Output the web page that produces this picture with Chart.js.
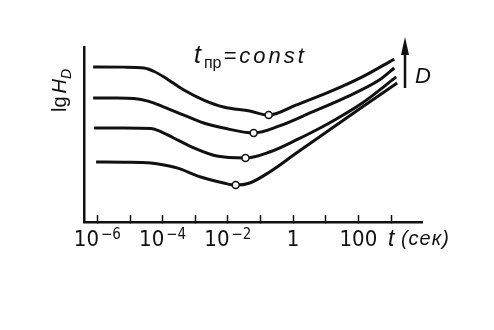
<!DOCTYPE html>
<html><head><meta charset="utf-8">
<script src="https://cdn.jsdelivr.net/npm/chart.js@4/dist/chart.umd.min.js"></script>
<style>html,body{margin:0;padding:0;background:#fff}#wrap{width:494px;height:330px}</style>
</head><body><div id="wrap"><canvas id="c" width="494" height="330"></canvas></div>
<script>
// x values are log10(t, s); y values are lg H_D in arbitrary units (axis 0..10)
const logT1 = [-6.13, -5.20, -4.57, -4.26, -3.96, -3.35, -2.74, -2.13, -1.33, -0.75, 0.10, 1.11, 2.12, 3.10];
const lgH1  = [8.86, 8.85, 8.80, 8.60, 8.29, 7.54, 6.97, 6.57, 6.34, 6.11, 6.69, 7.43, 8.29, 9.31];
const mark1 = 9;
const logT2 = [-6.13, -5.40, -4.88, -4.42, -3.96, -3.35, -2.74, -2.13, -1.21, -0.42, 0.59, 1.63, 2.64, 3.10];
const lgH2  = [7.09, 7.09, 7.06, 6.89, 6.57, 6.11, 5.66, 5.37, 5.09, 5.49, 6.29, 7.14, 8.11, 8.80];
const mark2 = 8;
const logT3 = [-6.10, -5.20, -4.36, -4.03, -3.66, -3.04, -2.34, -1.46, -0.72, 0.10, 1.11, 2.12, 3.16];
const lgH3  = [5.37, 5.37, 5.34, 5.14, 4.80, 4.23, 3.77, 3.66, 4.00, 4.69, 5.66, 6.80, 8.29];
const mark3 = 7;
const logT4 = [-6.04, -5.20, -4.36, -3.96, -3.56, -2.83, -2.13, -1.76, -1.33, -0.72, 0.10, 1.11, 2.12, 3.19];
const lgH4  = [3.43, 3.42, 3.37, 3.26, 3.09, 2.57, 2.23, 2.11, 2.23, 2.86, 3.94, 5.26, 6.57, 7.94];
const mark4 = 7;

const tickDecades = [-6, -5, -4, -3, -2, -1, 0, 1, 2, 3];
const labelDecades = [-6, -4, -2, 0, 2];
const xTitle = ["t", " (сек)"];
const yTitle = ["lg", "H", "D"];
const topNote = ["t", "пр", "=const"];
const arrowLabel = "D";

const INK = '#111';
const NARROW = '"Liberation Sans Narrow", "DejaVu Sans Condensed", sans-serif';
const SANS = '"Liberation Sans", "DejaVu Sans", sans-serif';

function series(xs, ys, mark) {
  return {
    data: xs.map((x, i) => ({x: x, y: ys[i]})),
    borderColor: INK, borderWidth: 3, cubicInterpolationMode: 'monotone', fill: false,
    pointRadius: c => c.dataIndex === mark ? 3.5 : 0,
    pointBackgroundColor: '#fff', pointBorderColor: INK, pointBorderWidth: 1.5
  };
}

const annot = {
  id: 'annot',
  afterDraw(chart) {
    const ctx = chart.ctx, xs = chart.scales.x, ca = chart.chartArea;
    ctx.save();
    ctx.fillStyle = INK; ctx.strokeStyle = INK;
    ctx.textBaseline = 'alphabetic'; ctx.textAlign = 'left';
    // tick labels
    labelDecades.forEach(e => {
      const px = xs.getPixelForValue(e);
      if (e < 0) {
        ctx.font = '22px ' + NARROW;
        const w1 = ctx.measureText('10').width;
        ctx.font = '15px ' + NARROW;
        const sup = '−' + Math.abs(e);
        const w2 = ctx.measureText(sup).width;
        const start = px - (w1 + 2 + w2) / 2;
        ctx.font = '22px ' + NARROW;
        ctx.fillText('10', start, 246);
        ctx.font = '15px ' + NARROW;
        ctx.fillText(sup, start + w1 + 2, 239);
      } else {
        const s = String(Math.pow(10, e));
        ctx.font = '22px ' + NARROW;
        const w = ctx.measureText(s).width;
        ctx.fillText(s, px - w / 2, 246);
      }
    });
    // x title
    let x0 = xs.getPixelForValue(3) - 3;
    ctx.font = 'italic 23px ' + SANS;
    ctx.fillText(xTitle[0], x0, 246);
    x0 += ctx.measureText(xTitle[0]).width;
    ctx.font = 'italic 20px ' + SANS;
    ctx.letterSpacing = '1px';
    ctx.fillText(xTitle[1], x0, 245);
    ctx.letterSpacing = '0px';
    // y title (rotated)
    ctx.save();
    ctx.translate(ca.left - 18, 112);
    ctx.rotate(-Math.PI / 2);
    ctx.font = '20px ' + SANS;
    ctx.fillText(yTitle[0], 0, 0);
    let yx = ctx.measureText(yTitle[0]).width + 3;
    ctx.font = 'italic 20px ' + SANS;
    ctx.fillText(yTitle[1], yx, 0);
    yx += ctx.measureText(yTitle[1]).width;
    ctx.font = 'italic 14px ' + SANS;
    ctx.fillText(yTitle[2], yx, 5);
    ctx.restore();
    // top note
    let tx = 194;
    ctx.font = 'italic 25px ' + SANS;
    ctx.fillText(topNote[0], tx, 63);
    tx += ctx.measureText(topNote[0]).width + 3;
    ctx.font = '16px ' + SANS;
    ctx.fillText(topNote[1], tx, 68);
    tx += ctx.measureText(topNote[1]).width + 2;
    ctx.font = 'italic 22px ' + SANS;
    ctx.letterSpacing = '3px';
    ctx.fillText(topNote[2], tx, 63);
    ctx.letterSpacing = '0px';
    // arrow
    const ax = 405;
    ctx.lineWidth = 2.5;
    ctx.beginPath(); ctx.moveTo(ax, 88); ctx.lineTo(ax, 48); ctx.stroke();
    ctx.beginPath(); ctx.moveTo(ax, 37); ctx.lineTo(ax - 4, 55); ctx.lineTo(ax + 4, 55); ctx.closePath(); ctx.fill();
    ctx.font = 'italic 22px ' + SANS;
    ctx.fillText(arrowLabel, ax + 10, 83);
    ctx.restore();
  }
};

new Chart(document.getElementById('c'), {
  type: 'line',
  data: { datasets: [series(logT1, lgH1, mark1), series(logT2, lgH2, mark2), series(logT3, lgH3, mark3), series(logT4, lgH4, mark4)] },
  options: {
    responsive: false, animation: false, devicePixelRatio: 1,
    layout: { padding: { top: 47, right: 72, left: 0, bottom: 0 } },
    plugins: { legend: { display: false }, tooltip: { enabled: false } },
    scales: {
      x: {
        type: 'linear', position: 'bottom', min: -6.41, max: 3.95,
        afterBuildTicks: s => { s.ticks = tickDecades.map(v => ({ value: v })); },
        afterFit: s => { s.height = 108; },
        ticks: { display: false },
        grid: { display: true, drawOnChartArea: false, drawTicks: true, tickLength: -7, tickWidth: 1.5, tickColor: INK },
        border: { display: true, color: INK, width: 2.5 }
      },
      y: {
        type: 'linear', min: 0, max: 10,
        afterFit: s => { s.width = 84; },
        ticks: { display: false },
        grid: { display: false },
        border: { display: true, color: INK, width: 2.5 }
      }
    }
  },
  plugins: [annot]
});
</script>
</body></html>
